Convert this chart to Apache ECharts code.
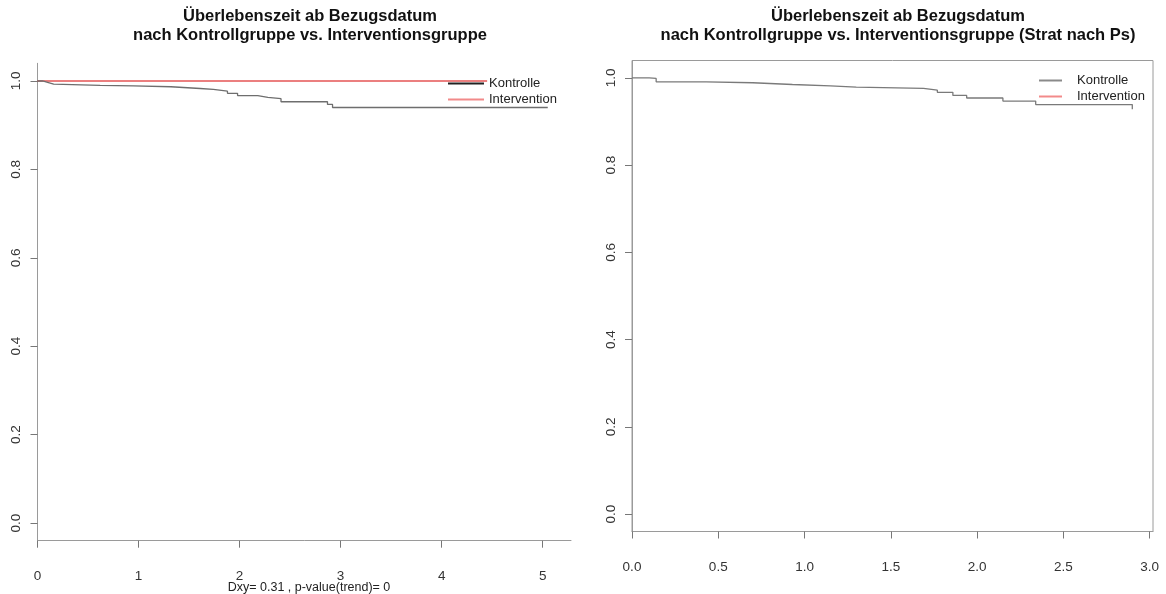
<!DOCTYPE html>
<html>
<head>
<meta charset="utf-8">
<script src="https://cdn.jsdelivr.net/npm/echarts@6/dist/echarts.min.js"></script>
<style>
html,body{margin:0;padding:0;background:#fff;}
#c{width:1166px;height:594px;}
</style>
</head>
<body>
<div id="c"></div>
<script>
// ---- data ----
var leftKontrolleTime = [0, 0.05, 0.10, 0.16, 0.62, 0.95, 1.32, 1.61, 1.74, 1.88, 1.98, 2.18, 2.28, 2.41, 2.87, 2.92, 5.05];
var leftKontrolleSurv = [1.0, 0.997, 0.993, 0.990, 0.989, 0.987, 0.983, 0.981, 0.977, 0.972, 0.967, 0.963, 0.960, 0.953, 0.947, 0.940, 0.940];
var leftInterventionTime = [0, 4.45];
var leftInterventionSurv = [1.0, 1.0];

var rightKontrolleTime = [0, 0.10, 0.14, 0.43, 0.70, 0.93, 1.15, 1.30, 1.69, 1.77, 1.86, 1.94, 2.15, 2.34, 2.90, 2.90];
var rightKontrolleSurv = [1.0, 0.999, 0.991, 0.989, 0.985, 0.982, 0.979, 0.976, 0.972, 0.967, 0.960, 0.954, 0.947, 0.939, 0.939, 0.928];

var leftXTicks = [0, 1, 2, 3, 4, 5];
var rightXTicks = [0, 0.5, 1.0, 1.5, 2.0, 2.5, 3.0];
var yTicks = [0, 0.2, 0.4, 0.6, 0.8, 1.0];

var leftTitle = 'Überlebenszeit ab Bezugsdatum\nnach Kontrollgruppe vs. Interventionsgruppe';
var rightTitle = 'Überlebenszeit ab Bezugsdatum\nnach Kontrollgruppe vs. Interventionsgruppe (Strat nach Ps)';
var leftSubtitle = 'Dxy= 0.31 , p-value(trend)= 0';

function pairs(t, s) { return t.map(function (v, i) { return [v, s[i]]; }); }

var FONT = 'Liberation Sans, Arial, sans-serif';
var axisGray = '#9a9a9a';

function xAxisCfg(idx, max, ticks, fmt) {
  return {
    type: 'value', gridIndex: idx, min: 0, max: max,
    axisLine: { show: true, onZero: false, lineStyle: { color: axisGray, width: 1 } },
    axisTick: { show: true, length: 7, customValues: ticks, lineStyle: { color: '#777' } },
    axisLabel: { customValues: ticks, margin: 29, fontSize: 13.5, fontFamily: FONT, color: '#333', formatter: fmt },
    splitLine: { show: false }
  };
}
function yAxisCfg(idx) {
  return {
    type: 'value', gridIndex: idx, min: -0.04, max: 1.04,
    axisLine: { show: true, lineStyle: { color: axisGray, width: 1 } },
    axisTick: { show: true, length: 7, customValues: yTicks, lineStyle: { color: '#777' } },
    axisLabel: { customValues: yTicks, rotate: 90, margin: 14, fontSize: 13.5, fontFamily: FONT, color: '#333',
      formatter: function (v) { return v.toFixed(1); } },
    splitLine: { show: false }
  };
}

var chart = echarts.init(document.getElementById('c'), null, { renderer: 'canvas' });
chart.setOption({
  animation: false,
  backgroundColor: '#fff',
  title: [
    { text: leftTitle, left: 305, top: 2, textAlign: 'center',
      textStyle: { fontFamily: FONT, fontSize: 16.5, fontWeight: 'bold', color: '#111', lineHeight: 19 } },
    { text: rightTitle, left: 893, top: 2, textAlign: 'center',
      textStyle: { fontFamily: FONT, fontSize: 16.5, fontWeight: 'bold', color: '#111', lineHeight: 19 } },
    { text: leftSubtitle, left: 304, top: 576, textAlign: 'center',
      textStyle: { fontFamily: FONT, fontSize: 12.5, fontWeight: 'normal', color: '#222' } }
  ],
  grid: [
    { left: 37.5, top: 63.3, width: 533.5, height: 477.4, show: false },
    { left: 632, top: 60.5, width: 521, height: 471, show: true, borderColor: axisGray, borderWidth: 1, backgroundColor: 'transparent' }
  ],
  xAxis: [
    xAxisCfg(0, 5.28, leftXTicks, function (v) { return String(v); }),
    xAxisCfg(1, 3.02, rightXTicks, function (v) { return v.toFixed(1); })
  ],
  yAxis: [yAxisCfg(0), yAxisCfg(1)],
  legend: [
    { orient: 'vertical', left: 443, top: 72, itemWidth: 36, itemHeight: 2, itemGap: 3, icon: 'rect',
      selectedMode: false,
      textStyle: { fontFamily: FONT, fontSize: 13, color: '#222' },
      data: [
        { name: 'Kontrolle', itemStyle: { color: '#222' } },
        { name: 'Intervention', itemStyle: { color: '#f28a8a' } }
      ] },
    { orient: 'vertical', left: 1034, top: 69, itemWidth: 23, itemHeight: 2, itemGap: 3, icon: 'rect',
      selectedMode: false,
      textStyle: { fontFamily: FONT, fontSize: 13, color: '#222', padding: [0, 0, 0, 10] },
      formatter: function (n) { return n.replace(' (Ps)', ''); },
      data: [
        { name: 'Kontrolle (Ps)', itemStyle: { color: '#8a8a8a' } },
        { name: 'Intervention (Ps)', itemStyle: { color: '#f28a8a' } }
      ] }
  ],
  series: [
    { name: 'Intervention', type: 'line', xAxisIndex: 0, yAxisIndex: 0, step: 'end', showSymbol: false,
      lineStyle: { color: '#d80000', width: 1.2 }, itemStyle: { color: '#d80000' },
      data: pairs(leftInterventionTime, leftInterventionSurv), z: 2 },
    { name: 'Kontrolle', type: 'line', xAxisIndex: 0, yAxisIndex: 0, step: 'end', showSymbol: false,
      lineStyle: { color: '#6e6e6e', width: 1.3 }, itemStyle: { color: '#6e6e6e' },
      data: pairs(leftKontrolleTime, leftKontrolleSurv), z: 3 },
    { name: 'Kontrolle (Ps)', type: 'line', xAxisIndex: 1, yAxisIndex: 1, step: 'end', showSymbol: false,
      lineStyle: { color: '#7a7a7a', width: 1.3 }, itemStyle: { color: '#7a7a7a' },
      data: pairs(rightKontrolleTime, rightKontrolleSurv) },
    { name: 'Intervention (Ps)', type: 'line', xAxisIndex: 1, yAxisIndex: 1, step: 'end', showSymbol: false,
      lineStyle: { color: '#d80000', width: 1.2 }, itemStyle: { color: '#d80000' },
      data: [] }
  ]
});
</script>
</body>
</html>
